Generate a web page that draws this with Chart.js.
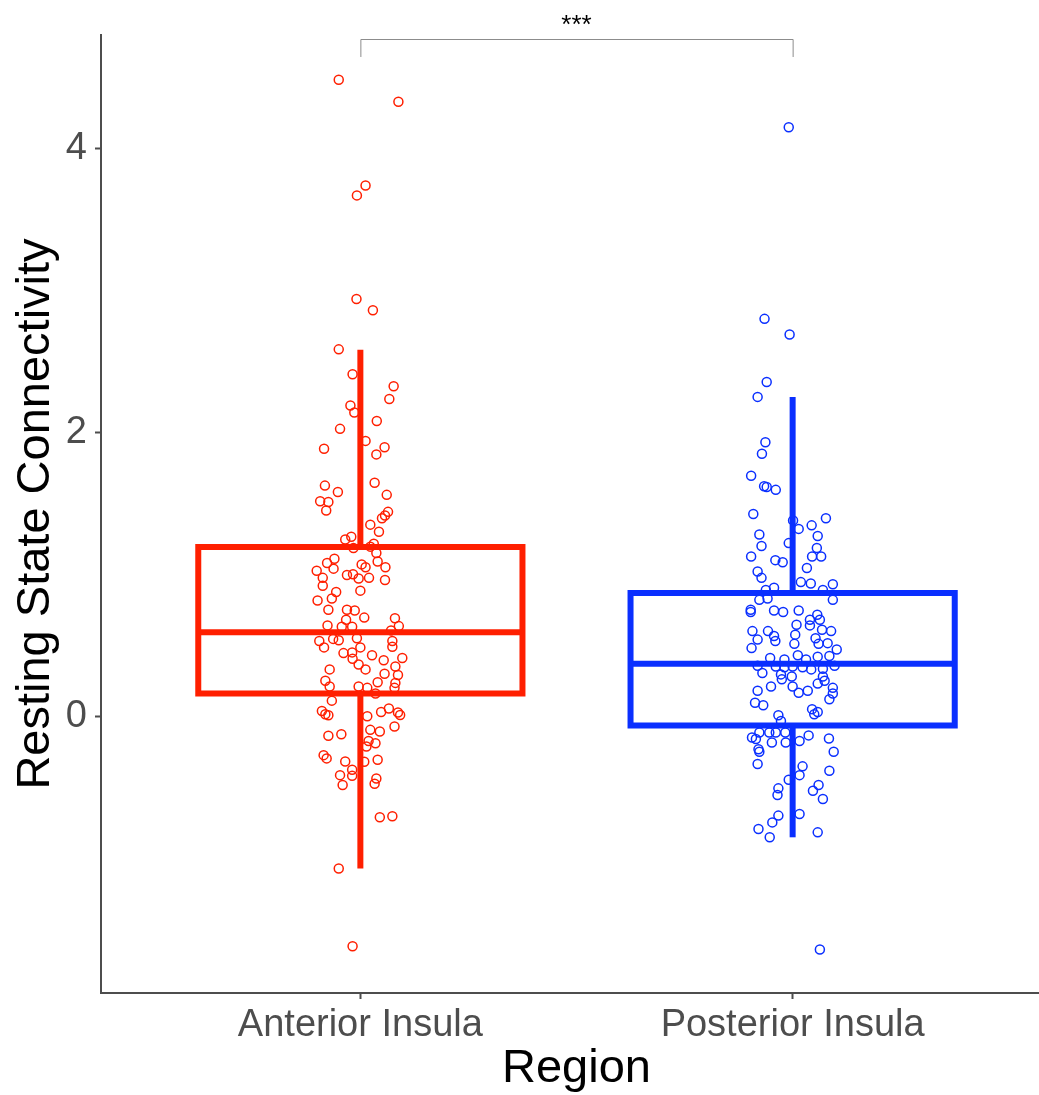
<!DOCTYPE html>
<html>
<head>
<meta charset="utf-8">
<script src="https://cdn.jsdelivr.net/npm/chart.js@4.4.1/dist/chart.umd.min.js"></script>
<style>
    html, body { margin: 0; padding: 0; background: #fff; overflow: hidden; }
    #wrap { width: 1058px; height: 1095px; position: relative; }
</style>
</head>
<body>
<div id="wrap"><canvas id="chart"></canvas></div>
<script>
// Categories and box statistics
const regions = ['Anterior Insula', 'Posterior Insula'];
const regionColors = ['#ff1f00', '#0a2fff'];
const whiskerLow = [-1.073, -0.853];
const boxQ1 = [0.16, -0.065];
const boxMedian = [0.591, 0.370];
const boxQ3 = [1.192, 0.868];
const whiskerHigh = [2.582, 2.249];
const boxWidth = 0.75;

const yTicks = [0, 2, 4];

// Significance bracket
const sigLabel = '***';
const bracketY = 4.77;
const bracketTip = 4.645;

// Jittered observations: Anterior Insula
const anteriorX = [0.950, 1.088, 1.012, 0.992, 0.991, 1.029, 0.950,
    0.982, 1.077, 1.067, 0.977, 0.986, 1.038, 0.953, 1.012, 1.056, 1.037, 0.916, 1.033, 0.918, 0.948,
    1.061, 0.907, 0.926, 0.921, 1.064, 1.057, 1.050, 1.023, 1.043, 0.965, 0.979, 1.031,
    0.984, 1.023, 1.037, 0.940, 0.923, 0.899, 0.938, 0.969, 0.983, 1.003, 1.012, 1.040, 1.058, 0.913,
    0.996, 1.020, 1.057, 0.913, 1.000, 0.944, 0.934, 0.901, 0.926, 0.969, 0.987, 1.009, 0.967, 1.080,
    0.924, 0.957, 0.981, 1.089, 1.071, 0.905, 0.937, 0.950, 0.992, 0.916, 1.074, 1.074, 1.000, 0.961,
    0.981, 1.027, 1.054, 1.097, 0.982, 0.996, 0.929, 1.012, 1.081, 1.056, 1.087, 0.919, 1.040, 1.081,
    0.929, 0.996, 1.016, 1.079, 1.035, 0.934,
    0.911, 0.926, 0.919, 1.016, 1.048, 1.066, 1.087, 1.092, 1.079, 0.926, 0.956, 1.023, 1.045, 1.019,
    1.035, 1.014, 0.915, 0.922, 0.965, 1.009, 1.040, 0.981, 0.953, 0.981, 1.037, 1.033, 0.959, 1.045,
    1.074, 0.950, 0.982];
const anteriorY = [4.485, 4.33, 3.74, 3.67, 2.94, 2.86, 2.585,
    2.41, 2.325, 2.235, 2.19, 2.14, 2.08, 2.025, 1.94, 1.895, 1.845, 1.885, 1.645, 1.625, 1.58,
    1.56, 1.515, 1.51, 1.45, 1.44, 1.415, 1.395, 1.35, 1.30, 1.245, 1.265, 1.215,
    1.185, 1.195, 1.15, 1.11, 1.08, 1.025, 1.04, 0.995, 1.00, 1.07, 1.05, 1.09, 1.05, 0.975,
    0.97, 0.975, 0.96, 0.92, 0.885, 0.875, 0.83, 0.815, 0.75, 0.75, 0.745, 0.695, 0.68, 0.69,
    0.64, 0.63, 0.63, 0.635, 0.605, 0.53, 0.545, 0.535, 0.55, 0.485, 0.53, 0.49, 0.485, 0.445,
    0.45, 0.43, 0.395, 0.41, 0.405, 0.365, 0.33, 0.33, 0.35, 0.30, 0.29, 0.25, 0.24, 0.235,
    0.21, 0.21, 0.20, 0.20, 0.16, 0.11,
    0.037, 0.007, 0.014, 0.0, 0.03, 0.054, 0.026, 0.009, -0.072, -0.138, -0.127, -0.096, -0.108, -0.174,
    -0.19, -0.213, -0.274, -0.297, -0.319, -0.321, -0.307, -0.377, -0.415, -0.42, -0.439, -0.476, -0.485, -0.712,
    -0.705, -1.073, -1.62];

// Jittered observations: Posterior Insula
const posteriorX = [1.991, 1.935, 1.993, 1.940, 1.919, 1.937, 1.929, 1.904, 1.934, 1.940, 1.961, 1.909,
    2.077, 2.001, 2.014, 2.044, 2.058, 1.923, 1.928, 1.991, 2.056, 1.904, 1.960, 2.045, 2.066,
    1.977, 2.033, 1.919, 1.928, 2.019, 2.042, 2.093, 1.938, 1.957, 2.070, 1.923, 1.942, 2.093, 1.903,
    1.903, 1.957, 1.978, 2.014, 2.040, 2.057, 2.063, 2.009, 2.040, 2.068, 2.089, 1.907, 1.943, 1.957,
    2.006, 2.053, 1.919, 1.960, 2.004, 2.060, 2.081, 1.905, 2.102, 2.012, 2.058, 2.085, 1.948, 1.981,
    2.031, 1.919, 1.961, 1.981, 2.000, 2.023, 2.043, 2.070, 2.097, 1.930, 1.973, 2.070, 1.975, 1.998,
    2.074, 1.950, 2.000, 2.058, 2.093, 1.919, 2.014, 2.035, 2.093, 2.085, 1.913, 1.932, 2.045, 2.058,
    1.967, 2.050,
    1.973, 1.906, 1.915, 1.952, 1.984, 1.923, 1.946, 1.961, 1.983, 2.016, 2.037, 2.084, 1.921, 1.923,
    2.095, 1.919, 2.023, 2.085, 2.016, 1.991, 1.967, 2.060, 2.047, 1.965, 2.070, 2.016, 1.967, 1.953,
    1.921, 1.947, 2.058, 2.063];
const posteriorY = [4.15, 2.80, 2.69, 2.355, 2.25, 1.93, 1.85, 1.695, 1.62, 1.615, 1.595, 1.425,
    1.395, 1.38, 1.32, 1.345, 1.27, 1.28, 1.20, 1.22, 1.185, 1.125, 1.10, 1.125, 1.125,
    1.085, 1.045, 1.02, 0.975, 0.945, 0.935, 0.93, 0.89, 0.905, 0.89, 0.82, 0.83, 0.82, 0.75,
    0.735, 0.745, 0.735, 0.745, 0.68, 0.715, 0.68, 0.645, 0.64, 0.61, 0.60, 0.60, 0.60, 0.565,
    0.575, 0.55, 0.54, 0.53, 0.51, 0.51, 0.515, 0.48, 0.47, 0.43, 0.42, 0.425, 0.41, 0.40,
    0.40, 0.355, 0.35, 0.345, 0.35, 0.345, 0.33, 0.335, 0.355, 0.305, 0.295, 0.28, 0.26, 0.28,
    0.25, 0.21, 0.21, 0.23, 0.20, 0.18, 0.165, 0.18, 0.16, 0.12, 0.095, 0.077, 0.05, 0.03,
    0.007, 0.014,
    -0.033, -0.15, -0.16, -0.185, -0.185, -0.115, -0.115, -0.115, -0.115, -0.175, -0.135, -0.157, -0.232, -0.25,
    -0.25, -0.337, -0.353, -0.384, -0.415, -0.448, -0.508, -0.485, -0.525, -0.555, -0.583, -0.689, -0.70, -0.748,
    -0.794, -0.853, -0.818, -1.643];

const axisColor = '#4d4d4d';
const FONT = "'Liberation Sans', Arial, Helvetica, sans-serif";

// Jittered points (drawn on top)
function pointsDataset(xs, ys, color) {
    return {
        data: xs.map((x, i) => ({ x, y: ys[i] })),
        pointRadius: 4.5,
        pointBorderWidth: 1.5,
        borderColor: color,
        backgroundColor: 'rgba(0,0,0,0)',
        order: 0
    };
}

// Straight segments for the boxplot
function lineDataset(pts, color) {
    return {
        data: pts,
        showLine: true,
        pointRadius: 0,
        borderColor: color,
        borderWidth: 6,
        borderJoinStyle: 'miter',
        borderCapStyle: 'butt',
        backgroundColor: 'rgba(0,0,0,0)',
        order: 1
    };
}

const datasets = [
    pointsDataset(anteriorX, anteriorY, regionColors[0]),
    pointsDataset(posteriorX, posteriorY, regionColors[1])
];

regions.forEach((name, i) => {
    const c = i + 1;
    const hw = boxWidth / 2;
    const color = regionColors[i];
    datasets.push(lineDataset([
        { x: c, y: boxQ1[i] }, { x: c + hw, y: boxQ1[i] }, { x: c + hw, y: boxQ3[i] },
        { x: c - hw, y: boxQ3[i] }, { x: c - hw, y: boxQ1[i] }, { x: c, y: boxQ1[i] }
    ], color));
    datasets.push(lineDataset([{ x: c - hw, y: boxMedian[i] }, { x: c + hw, y: boxMedian[i] }], color));
    datasets.push(lineDataset([{ x: c, y: boxQ3[i] }, { x: c, y: whiskerHigh[i] }], color));
    datasets.push(lineDataset([{ x: c, y: whiskerLow[i] }, { x: c, y: boxQ1[i] }], color));
});

// Significance bracket + stars
const bracketPlugin = {
    id: 'bracket',
    afterDraw(chart) {
        const { ctx, scales: { x, y } } = chart;
        const x1 = x.getPixelForValue(1);
        const x2 = x.getPixelForValue(2);
        const yTop = y.getPixelForValue(bracketY);
        const yBot = y.getPixelForValue(bracketTip);
        ctx.save();
        ctx.strokeStyle = '#8c8c8c';
        ctx.lineWidth = 1;
        ctx.beginPath();
        ctx.moveTo(x1 + 0.5, yBot);
        ctx.lineTo(x1 + 0.5, Math.round(yTop) + 0.5);
        ctx.lineTo(x2 + 0.5, Math.round(yTop) + 0.5);
        ctx.lineTo(x2 + 0.5, yBot);
        ctx.stroke();
        ctx.fillStyle = '#000';
        ctx.font = '26px ' + FONT;
        ctx.textAlign = 'center';
        ctx.textBaseline = 'alphabetic';
        ctx.fillText(sigLabel, (x1 + x2) / 2, yTop - 6);
        ctx.restore();
    }
};

new Chart(document.getElementById('chart'), {
    type: 'scatter',
    data: { datasets },
    options: {
        responsive: true,
        maintainAspectRatio: false,
        animation: false,
        layout: { padding: { top: 35, right: 0, bottom: 0, left: 0 } },
        plugins: {
            legend: { display: false },
            tooltip: { enabled: false }
        },
        scales: {
            x: {
                type: 'linear',
                min: 0.4,
                max: 2.6,
                afterBuildTicks: scale => { scale.ticks = regions.map((r, i) => ({ value: i + 1 })); },
                afterFit: scale => { scale.height = 102; },
                ticks: {
                    callback: value => regions[value - 1],
                    color: axisColor,
                    font: { family: FONT, size: 38 },
                    padding: 4,
                    maxRotation: 0,
                    autoSkip: false
                },
                grid: { drawOnChartArea: false, drawTicks: true, tickLength: 6, color: axisColor, tickWidth: 2 },
                border: { display: true, color: axisColor, width: 2 },
                title: {
                    display: true,
                    text: 'Region',
                    color: '#000',
                    font: { family: FONT, size: 47 },
                    padding: { top: 0, bottom: -2 }
                }
            },
            y: {
                min: -1.95,
                max: 4.80,
                afterBuildTicks: scale => { scale.ticks = yTicks.map(v => ({ value: v })); },
                afterFit: scale => { scale.width = 101; },
                ticks: {
                    color: axisColor,
                    font: { family: FONT, size: 38 },
                    padding: 8
                },
                grid: { drawOnChartArea: false, drawTicks: true, tickLength: 6, color: axisColor, tickWidth: 2 },
                border: { display: true, color: axisColor, width: 2 },
                title: {
                    display: true,
                    text: 'Resting State Connectivity',
                    color: '#000',
                    font: { family: FONT, size: 47 },
                    padding: { top: 8, bottom: 0 }
                }
            }
        }
    },
    plugins: [bracketPlugin]
});
</script>
</body>
</html>
